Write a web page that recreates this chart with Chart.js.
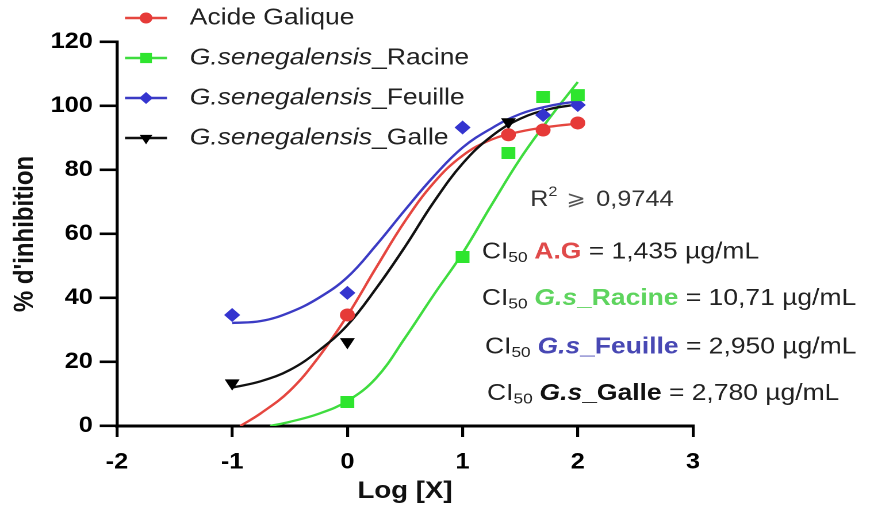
<!DOCTYPE html>
<html>
<head>
<meta charset="utf-8">
<script src="https://cdn.jsdelivr.net/npm/chart.js@4/dist/chart.umd.min.js"></script>
<style>
  html, body { margin: 0; padding: 0; background: #fff; }
  #wrap {
    position: absolute; left: 0; top: 0;
    width: 760px; height: 526px;
    transform: scaleX(1.15); transform-origin: 0 0;
  }
</style>
</head>
<body>
<div id="wrap"><canvas id="c"></canvas></div>
<script>
// Concentrations tested, as log10 (µg/mL)
const logConc = [-1, 0, 1, 1.398, 1.699, 2];

// Measured % inhibition for each extract
const acideGalique = [null, 34.7, null, 91.0, 92.5, 94.7];
const gsRacine     = [null, 7.5, 52.8, 85.3, 102.8, 103.4];
const gsFeuille    = [34.7, 41.6, 93.3, null, 97.2, 100.3];
const gsGalle      = [13.4, 26.3, null, 95.0, null, null];

// Fitted dose-response curves (log concentration -> % inhibition)
const fitXAcide  = [-0.93, -0.75, -0.5, -0.25, 0, 0.25, 0.5, 0.75, 1, 1.25, 1.5, 1.75, 2];
const fitAcide   = [0, 4, 11, 21.5, 34.5, 49.5, 64, 76, 84.5, 89.5, 92, 93.5, 94.5];
const fitXRacine = [-0.67, -0.5, -0.25, 0, 0.25, 0.5, 0.75, 1, 1.25, 1.5, 1.75, 2];
const fitRacine  = [0, 1.3, 3.8, 7.8, 15, 27.5, 41, 54, 69, 83.5, 96, 107.5];
const fitXFull   = [-1, -0.75, -0.5, -0.25, 0, 0.25, 0.5, 0.75, 1, 1.25, 1.5, 1.75, 2];
const fitFeuille = [32.2, 32.8, 35.5, 40, 46.5, 56.5, 67.5, 78, 87, 93, 97.5, 100, 101.5];
const fitGalle   = [12, 14, 17.5, 23.5, 31.5, 43, 56, 70, 82, 90.5, 96, 99, 100.5];

// Labels
const seriesNames = ['Acide Galique', 'G.senegalensis_Racine', 'G.senegalensis_Feuille', 'G.senegalensis_Galle'];
const ic50Names  = ['A.G', 'G.s_Racine', 'G.s_Feuille', 'G.s_Galle'];
const ic50Values = ['1,435', '10,71', '2,950', '2,780'];
const r2Value = '0,9744';
const xTitle = 'Log [X]';
const yTitle = "% d'inhibition";

// Styles
const FAMILY = '"Liberation Sans", Arial, Helvetica, sans-serif';
const lineColors   = ['#e5463f', '#3fdc3f', '#3b3bc4', '#111111'];
const markerColors = ['#e63a38', '#2ee52e', '#3434cf', '#000000'];
const markerStyles = ['circle', 'rect', 'rectRot', 'triangle'];
const markerRadius = [6.5, 8.5, 7, 7.5];
const markerRotation = [0, 0, 0, 180];
const ic50Colors = ['#e04a4a', '#5ed45e', '#4848b4', '#111111'];

const toXY = (xs, ys) => xs.map((x, i) => ({ x, y: ys[i] })).filter(p => p.y !== null);

const pointSets = [acideGalique, gsRacine, gsFeuille, gsGalle];
const curveSets = [
  toXY(fitXAcide, fitAcide),
  toXY(fitXRacine, fitRacine),
  toXY(fitXFull, fitFeuille),
  toXY(fitXFull, fitGalle)
];

const datasets = [];
pointSets.forEach((vals, i) => {
  datasets.push({
    label: seriesNames[i],
    data: toXY(logConc, vals),
    showLine: false,
    pointStyle: markerStyles[i],
    pointRadius: markerRadius[i],
    pointRotation: markerRotation[i],
    pointBackgroundColor: markerColors[i],
    pointBorderColor: markerColors[i],
    pointBorderWidth: 0,
    order: i
  });
});
curveSets.forEach((pts, i) => {
  datasets.push({
    label: seriesNames[i] + ' (fit)',
    data: pts,
    showLine: true,
    borderColor: lineColors[i],
    borderWidth: 2.3,
    pointRadius: 0,
    tension: 0.4,
    fill: false,
    order: 10 + (3 - i)
  });
});

// Draw a sequence of text runs with mixed fonts/colours on one line
function drawRuns(ctx, x, y, runs) {
  ctx.save();
  ctx.textBaseline = 'middle';
  ctx.textAlign = 'left';
  let cx = x;
  runs.forEach(r => {
    ctx.font = r.font;
    ctx.fillStyle = r.color || '#222';
    ctx.fillText(r.text, cx, y + (r.dy || 0));
    cx += ctx.measureText(r.text).width + (r.gap || 0);
  });
  ctx.restore();
}

const f = (size, weight, style) => `${style || 'normal'} ${weight || 'normal'} ${size}px ${FAMILY}`;

const overlayPlugin = {
  id: 'overlay',
  afterDatasetsDraw(chart) {
    const ctx = chart.ctx;
    const drawPoint = Chart.helpers.drawPoint;

    // legend
    const legX0 = 108.7, legX1 = 145.2, legMark = 127, legText = 165;
    const legY = [18, 58, 98, 138];
    seriesNames.forEach((name, i) => {
      const y = legY[i];
      ctx.save();
      ctx.strokeStyle = lineColors[i];
      ctx.lineWidth = 2.6;
      ctx.beginPath();
      ctx.moveTo(legX0, y);
      ctx.lineTo(legX1, y);
      ctx.stroke();
      ctx.fillStyle = markerColors[i];
      ctx.strokeStyle = markerColors[i];
      drawPoint(ctx, {
        pointStyle: markerStyles[i],
        radius: markerRadius[i] * 0.85,
        rotation: markerRotation[i],
        borderWidth: 0
      }, legMark, y);
      ctx.restore();
      const parts = name.split('_');
      const runs = parts.length > 1
        ? [{ text: parts[0], font: f(23, 'normal', 'italic'), color: '#222' },
           { text: '_' + parts[1], font: f(23), color: '#222' }]
        : [{ text: name, font: f(23), color: '#222' }];
      drawRuns(ctx, legText, y, runs);
    });

    // R² annotation
    drawRuns(ctx, 461, 200, [
      { text: 'R', font: f(22), color: '#333' },
      { text: '2', font: f(14), color: '#333', dy: -8, gap: 8 },
      { text: '\u2A7E', font: `normal normal 20px "DejaVu Sans", ${FAMILY}`, color: '#555', gap: 9 },
      { text: r2Value, font: f(22), color: '#333' }
    ]);

    // IC50 annotations
    const ciX = [419, 419, 421.7, 423.5];
    const ciY = [252, 298.5, 347, 393.5];
    ic50Names.forEach((nm, i) => {
      const [a, b] = nm.split('_');
      const nameRuns = b === undefined
        ? [{ text: nm, font: f(23, 'bold'), color: ic50Colors[i] }]
        : [{ text: a, font: f(23, 'bold', 'italic'), color: ic50Colors[i] },
           { text: '_' + b, font: f(23, 'bold'), color: ic50Colors[i] }];
      drawRuns(ctx, ciX[i], ciY[i], [
        { text: 'CI', font: f(23), color: '#222' },
        { text: '50', font: f(15), color: '#222', dy: 6, gap: 6 },
        ...nameRuns,
        { text: ' = ' + ic50Values[i] + ' \u00B5g/mL', font: f(23), color: '#222' }
      ]);
    });
  }
};

new Chart(document.getElementById('c'), {
  type: 'scatter',
  data: { datasets },
  plugins: [overlayPlugin],
  options: {
    responsive: true,
    maintainAspectRatio: false,
    devicePixelRatio: 2,
    animation: false,
    events: [],
    layout: { padding: { left: 0, right: 157.4, top: 42, bottom: 0 } },
    plugins: { legend: { display: false }, tooltip: { enabled: false } },
    scales: {
      x: {
        type: 'linear',
        min: -2, max: 3,
        afterFit: s => { s.height = 100; },
        border: { display: true, width: 3, color: '#000' },
        grid: { display: true, drawOnChartArea: false, drawTicks: true, tickLength: 11, lineWidth: 2.6, color: '#000' },
        ticks: { stepSize: 1, padding: 12, color: '#000', font: { family: FAMILY, size: 22, weight: 'bold' } },
        title: { display: true, text: xTitle, color: '#111', padding: { top: 0, bottom: 20 }, font: { family: FAMILY, size: 24, weight: 'bold' } }
      },
      y: {
        type: 'linear',
        min: 0, max: 120,
        afterFit: s => { s.width = 101.7; },
        border: { display: true, width: 2.7, color: '#000' },
        grid: { display: true, drawOnChartArea: false, drawTicks: true, tickLength: 15, lineWidth: 2.6, color: '#000' },
        ticks: { stepSize: 20, padding: 6, color: '#000', font: { family: FAMILY, size: 22, weight: 'bold' } },
        title: { display: true, text: yTitle, color: '#111', padding: { top: 7.3, bottom: 0 }, font: { family: FAMILY, size: 24, weight: 'bold' } }
      }
    }
  }
});
</script>
</body>
</html>
